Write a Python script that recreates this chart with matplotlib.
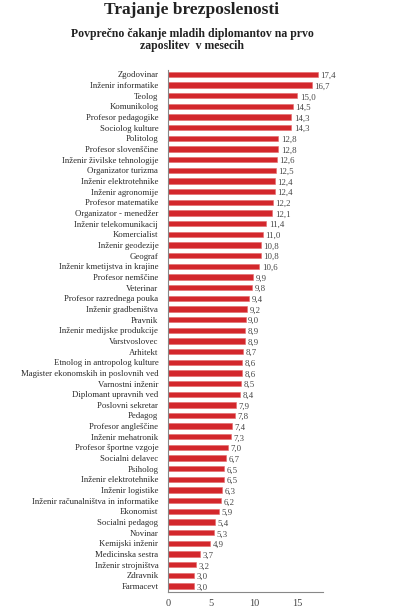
import numpy as np
import matplotlib.pyplot as plt

# Poklici in povprecno cakanje na prvo zaposlitev (meseci)
poklici = [
    'Zgodovinar', 'Inženir informatike', 'Teolog', 'Komunikolog',
    'Profesor pedagogike', 'Sociolog kulture', 'Politolog',
    'Profesor slovenščine', 'Inženir živilske tehnologije',
    'Organizator turizma', 'Inženir elektrotehnike', 'Inženir agronomije',
    'Profesor matematike', 'Organizator - menedžer',
    'Inženir telekomunikacij', 'Komercialist', 'Inženir geodezije',
    'Geograf', 'Inženir kmetijstva in krajine', 'Profesor nemščine',
    'Veterinar', 'Profesor razrednega pouka', 'Inženir gradbeništva',
    'Pravnik', 'Inženir medijske produkcije', 'Varstvoslovec', 'Arhitekt',
    'Etnolog in antropolog kulture', 'Magister ekonomskih in poslovnih ved',
    'Varnostni inženir', 'Diplomant upravnih ved', 'Poslovni sekretar',
    'Pedagog', 'Profesor angleščine', 'Inženir mehatronik',
    'Profesor športne vzgoje', 'Socialni delavec', 'Psiholog',
    'Inženir elektrotehnike', 'Inženir logistike',
    'Inženir računalništva in informatike', 'Ekonomist', 'Socialni pedagog',
    'Novinar', 'Kemijski inženir', 'Medicinska sestra', 'Inženir strojništva',
    'Zdravnik', 'Farmacevt',
]
meseci = [
    17.4, 16.7, 15.0, 14.5, 14.3, 14.3, 12.8, 12.8, 12.6, 12.5, 12.4, 12.4,
    12.2, 12.1, 11.4, 11.0, 10.8, 10.8, 10.6, 9.9, 9.8, 9.4, 9.2, 9.0, 8.9,
    8.9, 8.7, 8.6, 8.6, 8.5, 8.4, 7.9, 7.8, 7.4, 7.3, 7.0, 6.7, 6.5, 6.5,
    6.3, 6.2, 5.9, 5.4, 5.3, 4.9, 3.7, 3.2, 3.0, 3.0,
]
x_ticks = [0, 5, 10, 15]

plt.rcParams['font.family'] = ['Liberation Serif', 'DejaVu Serif']

fig = plt.figure(figsize=(4, 6.1), dpi=100)
ax = fig.add_axes([0.42, 0.0295, 0.3875, 0.8555])

pos = np.arange(len(poklici))
ax.barh(pos, meseci, height=0.5, color='#d3272c', edgecolor='#e46a6a', linewidth=0.4)

for p, v in zip(pos, meseci):
    ax.text(v + 0.3, p + 0.15, f'{v:.1f}'.replace('.', ','), va='center', ha='left',
            fontsize=6.3, color='#444444')

ax.set_yticks(pos)
ax.set_yticklabels(poklici, fontsize=6.3, color='#2a2a2a')
ax.set_xticks(x_ticks)
ax.set_xticklabels([str(t) for t in x_ticks], fontsize=7.5, color='#444444')
ax.set_xlim(0, 18)
ax.set_ylim(48.56, -0.4)
ax.tick_params(axis='y', length=0, pad=7)
ax.tick_params(axis='x', length=0, pad=5)

for s in ['top', 'right']:
    ax.spines[s].set_visible(False)
for s in ['left', 'bottom']:
    ax.spines[s].set_color('#888888')
    ax.spines[s].set_linewidth(0.8)

fig.text(0.48, 0.983, 'Trajanje brezposlenosti', ha='center', va='center',
         fontsize=12.5, fontweight='bold', color='#222222')
fig.text(0.48, 0.945, 'Povprečno čakanje mladih diplomantov na prvo', ha='center',
         va='center', fontsize=8.5, fontweight='bold', color='#222222')
fig.text(0.48, 0.924, 'zaposlitev  v mesecih', ha='center', va='center',
         fontsize=8.5, fontweight='bold', color='#222222')

fig.savefig('out.png', dpi=100)
